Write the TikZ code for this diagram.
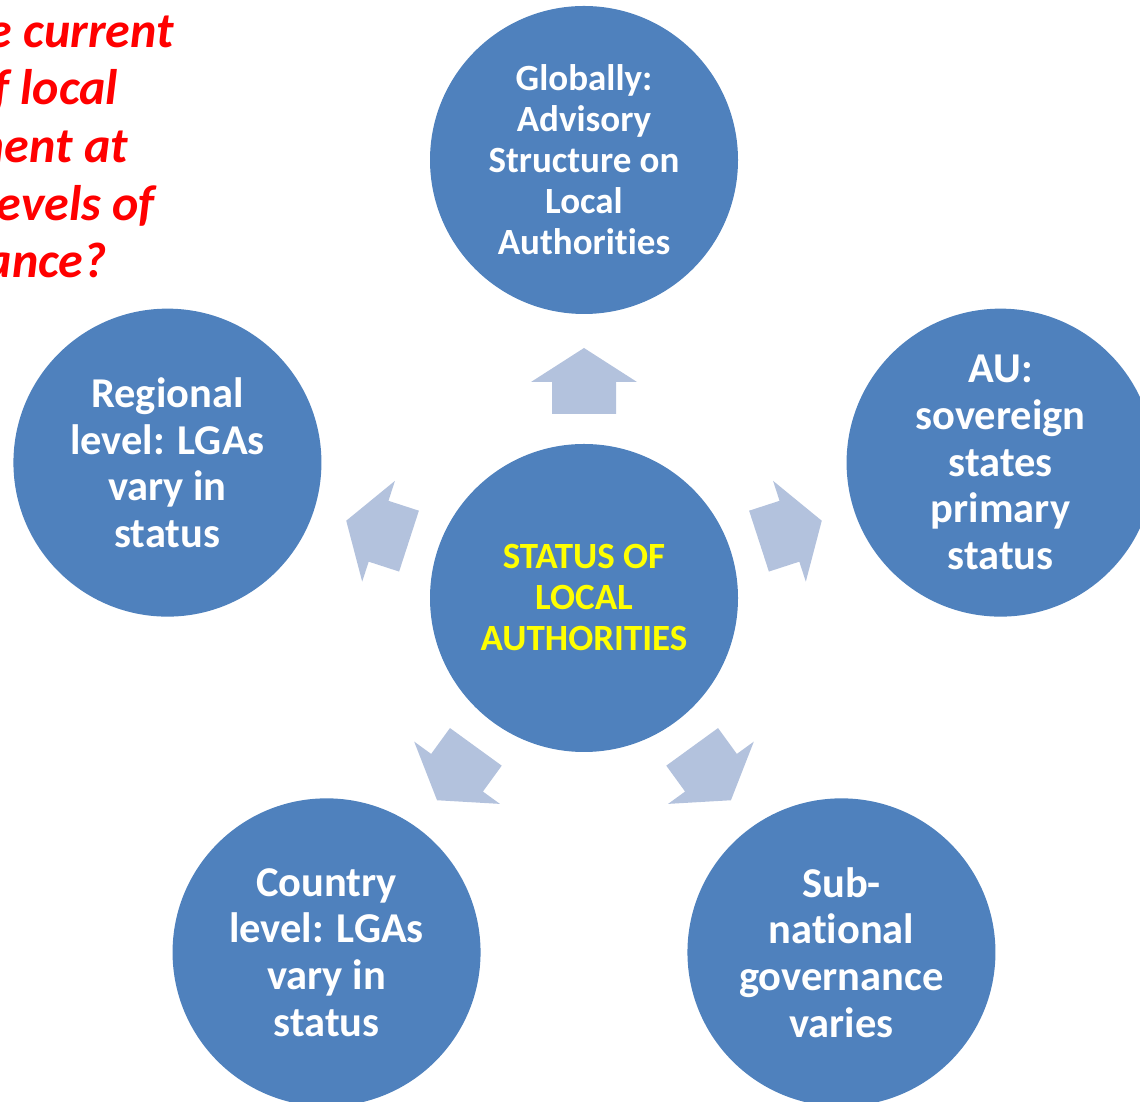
\documentclass[tikz,border=0pt]{standalone}
\usepackage{fontspec}
\setmainfont{Carlito}[Ligatures=CommonOff]
\definecolor{cblue}{HTML}{4F81BD}
\definecolor{arrowc}{HTML}{B3C2DD}
\definecolor{qred}{HTML}{FF0000}
\definecolor{cyel}{HTML}{FFFF00}
\tikzset{
  circ/.style={circle, fill=cblue, minimum size=308pt, inner sep=0pt, align=center, text=white},
  bigtxt/.style={font=\fontsize{42.5}{46.7}\selectfont\bfseries},
  smalltxt/.style={font=\fontsize{37}{41}\selectfont\bfseries},
  blockarrow/.style={fill=arrowc, draw=none},
}
\begin{document}
\begin{tikzpicture}[x=1pt,y=1pt]
\useasboundingbox (0,0) rectangle (1140,1102);
\clip (0,0) rectangle (1140,1102);
\coordinate (C) at (584,504);
% question text
\node[text=qred, align=center, anchor=base, font=\fontsize{50}{57.7}\selectfont\bfseries\itshape] (q) at (-26,824)
  {What is the current\\status of local\\government at\\different levels of\\governance?};
% center
\node[circ, smalltxt, text=cyel] (center) at (C) {STATUS OF\\LOCAL\\AUTHORITIES};
% outer circles
\node[circ, smalltxt] (glob) at ([shift={(90:438)}]C) {Globally:\\Advisory\\Structure on\\Local\\Authorities};
\node[circ, bigtxt] (au) at ([shift={(18:438)}]C) {AU:\\sovereign\\states\\primary\\status};
\node[circ, bigtxt] (sub) at ([shift={(-54:438)}]C) {Sub-\\national\\governance\\varies};
\node[circ, bigtxt] (country) at ([shift={(-126:438)}]C) {Country\\level: LGAs\\vary in\\status};
\node[circ, bigtxt] (region) at ([shift={(162:438)}]C) {Regional\\level: LGAs\\vary in\\status};
% block arrows
\foreach \r in {0,-72,-144,144,72}{
  \begin{scope}[shift={(C)}, rotate=\r]
    \fill[blockarrow] (0,250) -- (53,216) -- (32,216) -- (32,184) -- (-32,184) -- (-32,216) -- (-53,216) -- cycle;
  \end{scope}
}
\end{tikzpicture}
\end{document}
